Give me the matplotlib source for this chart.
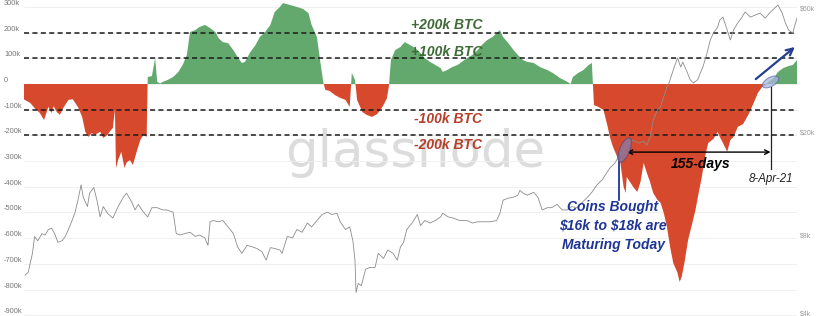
import numpy as np
import pandas as pd
import matplotlib
matplotlib.use("Agg")
import matplotlib.pyplot as plt
import matplotlib.dates as mdates
import matplotlib.transforms as mtransforms
from matplotlib.patches import Ellipse
from matplotlib.ticker import NullLocator

# series start date, everything below is "days since start"
start = pd.Timestamp("2019-05-03")

# net position change (thousands of BTC)
flow_days = [0, 6, 10, 15, 19, 23, 26, 28, 31, 34,
             37, 42, 46, 51, 55, 58, 61, 64, 67, 72,
             75, 79, 81, 84, 86, 87, 89, 92, 95, 97,
             100, 103, 107, 110, 113, 116, 117, 121, 124, 126,
             129, 131, 136, 141, 146, 150, 154, 157, 162, 166,
             171, 176, 181, 184, 188, 193, 198, 202, 206, 209,
             214, 219, 223, 228, 233, 237, 242, 245, 252, 258,
             264, 269, 272, 277, 280, 283, 285, 289, 294, 299,
             304, 308, 310, 313, 315, 320, 324, 329, 334, 339,
             343, 345, 347, 351, 356, 360, 365, 370, 375, 379,
             384, 389, 394, 396, 400, 405, 410, 414, 419, 424,
             429, 433, 438, 443, 447, 450, 453, 458, 463, 467,
             472, 476, 482, 488, 495, 500, 507, 514, 517, 519,
             524, 529, 534, 537, 539, 543, 548, 552, 554, 557,
             561, 564, 567, 569, 570, 573, 576, 580, 583, 586,
             589, 592, 595, 599, 602, 605, 608, 611, 614, 618,
             620, 622, 625, 628, 632, 635, 638, 641, 644, 647,
             652, 656, 658, 661, 665, 668, 671, 675, 680, 685,
             690, 694, 698, 701, 704, 709, 713, 718, 723, 727,
             731]
flow_k = [-60, -74, -94, -113, -140, -89, -113, -86, -109, -120,
          -94, -62, -59, -89, -128, -186, -206, -191, -198, -186,
          -210, -198, -186, -171, -101, -327, -296, -264, -327, -306,
          -296, -315, -257, -218, -198, -206, 27, 31, 101, 8,
          2, 8, 16, 27, 47, 74, 113, 202, 210, 222,
          230, 218, 202, 179, 163, 159, 132, 105, 82, 86,
          124, 152, 183, 202, 230, 280, 300, 315, 307, 300,
          292, 276, 230, 183, 93, 8, -23, -27, -43, -54,
          -62, -89, 43, 16, -62, -109, -120, -128, -117, -89,
          -58, -12, 93, 132, 144, 163, 152, 140, 120, 101,
          86, 74, 62, 47, 54, 66, 74, 86, 101, 113,
          132, 152, 171, 183, 198, 210, 183, 159, 132, 113,
          93, 86, 82, 66, 54, 43, 23, 8, 0, 27,
          43, 54, 74, 82, -82, -89, -101, -167, -206, -245,
          -284, -307, -400, -424, -362, -381, -400, -420, -381, -307,
          -346, -381, -424, -451, -463, -502, -556, -634, -697, -735,
          -770, -750, -685, -607, -541, -490, -424, -362, -284, -230,
          -214, -186, -206, -230, -264, -218, -206, -167, -156, -120,
          -74, -35, -12, -4, 8, 23, 47, 62, 70, 74,
          93]

# BTC price (thousands of USD)
price_days = [1, 4, 8, 10, 13, 17, 20, 23, 26, 29,
              32, 36, 39, 42, 45, 48, 51, 54, 56, 60,
              62, 66, 69, 72, 75, 79, 84, 89, 94, 97,
              102, 105, 108, 113, 117, 121, 126, 131, 135, 141,
              144, 148, 152, 157, 162, 166, 171, 174, 176, 179,
              184, 188, 193, 198, 202, 206, 211, 216, 220, 225,
              229, 233, 237, 242, 244, 249, 254, 258, 263, 268,
              272, 277, 282, 287, 291, 296, 299, 304, 308, 311,
              313, 314, 316, 319, 323, 327, 332, 335, 340, 344,
              349, 353, 356, 359, 362, 367, 372, 375, 379, 384,
              389, 394, 396, 401, 406, 412, 419, 424, 429, 434,
              441, 447, 450, 453, 458, 463, 467, 469, 472, 476,
              482, 486, 490, 495, 499, 504, 509, 514, 518, 523,
              528, 533, 537, 542, 547, 551, 554, 559, 562, 566,
              569, 571, 576, 581, 586, 589, 592, 595, 599, 602,
              605, 608, 610, 614, 618, 621, 623, 627, 630, 633,
              637, 640, 642, 646, 649, 652, 656, 658, 661, 665,
              668, 671, 675, 679, 682, 687, 692, 696, 701, 706,
              710, 713, 717, 720, 723, 727, 729, 731]
price_k = [5.6, 5.75, 6.8, 7.9, 7.6, 8.1, 8.0, 8.4, 8.5, 8.1,
           7.5, 7.6, 7.9, 8.4, 9.0, 9.7, 10.9, 12.5, 11.2, 10.3,
           11.6, 12.2, 10.9, 9.4, 10.3, 9.7, 9.3, 10.3, 11.2, 11.6,
           10.7, 10.0, 10.5, 9.8, 9.4, 10.2, 10.2, 10.0, 10.0, 9.8,
           8.1, 8.0, 8.1, 8.2, 7.9, 8.0, 7.8, 7.3, 9.0, 9.1,
           9.0, 9.1, 8.6, 8.1, 7.2, 6.8, 7.3, 7.2, 7.1, 6.9,
           6.4, 7.15, 7.1, 7.0, 6.8, 7.9, 7.8, 8.4, 8.2, 8.9,
           8.6, 9.1, 9.6, 9.8, 9.6, 9.7, 9.0, 8.4, 8.6, 7.6,
           6.4, 4.8, 5.2, 5.1, 5.9, 6.0, 6.0, 6.8, 6.5, 7.0,
           6.8, 6.4, 7.2, 7.5, 8.4, 8.9, 9.6, 8.7, 9.1, 8.9,
           9.1, 9.4, 9.7, 9.4, 9.3, 9.1, 9.1, 8.9, 9.0, 9.0,
           9.0, 9.1, 9.7, 10.9, 11.1, 11.2, 11.4, 11.9, 11.6, 11.4,
           11.7, 11.2, 10.0, 10.2, 10.2, 10.5, 10.0, 10.0, 10.3, 10.2,
           10.7, 11.2, 11.7, 12.5, 13.1, 13.9, 14.5, 15.2, 16.0, 16.7,
           17.5, 18.1, 18.6, 18.1, 18.4, 17.8, 19.1, 22.2, 24.3, 25.0,
           27.3, 29.8, 30.9, 34.7, 38.6, 35.6, 37.2, 34.1, 31.8, 30.9,
           31.8, 34.1, 35.6, 40.4, 45.3, 48.2, 50.8, 54.1, 55.5, 49.5,
           45.3, 49.5, 52.7, 55.5, 58.1, 55.5, 56.6, 57.5, 55.0, 58.1,
           60.2, 61.8, 57.5, 52.7, 49.5, 48.2, 51.7, 55.0]

left_ticks = [-900, -800, -700, -600, -500, -400, -300, -200, -100, 0, 100, 200, 300]
left_labels = ["-900k", "-800k", "-700k", "-600k", "-500k", "-400k", "-300k",
               "-200k", "-100k", "0", "100k", "200k", "300k"]
right_ticks = [4, 8, 20, 60]
right_labels = [r"\$4k", r"\$8k", r"\$20k", r"\$60k"]
levels = [200, 100, -100, -200]
level_labels = ["+200k BTC", "+100k BTC", "-100k BTC", "-200k BTC"]


def day(n):
    return start + pd.Timedelta(days=n)


flow_dates = start + pd.to_timedelta(flow_days, unit="D")
price_dates = start + pd.to_timedelta(price_days, unit="D")
flow = np.array(flow_k, dtype=float)

GREEN = "#63a86d"
RED = "#d6492c"
BLUE = "#1e3595"
TXT_FONT = ["Liberation Sans", "DejaVu Sans"]

fig = plt.figure(figsize=(8.3, 3.16), dpi=100)
ax = fig.add_axes([24 / 830, 0, 773 / 830, 1])
ax.set_xlim(day(0), day(731))
ax.set_ylim(-903, 327)

# watermark
ax.text(day(370), -323, "glassnode", fontsize=37, color="#dcdcdc",
        ha="center", va="baseline", zorder=0, family="DejaVu Sans")

ax.fill_between(flow_dates, flow, 0, where=flow >= 0, interpolate=True,
                color=GREEN, lw=0, zorder=2)
ax.fill_between(flow_dates, flow, 0, where=flow <= 0, interpolate=True,
                color=RED, lw=0, zorder=2)

for v in levels:
    ax.axhline(v, color="#1a1a1a", lw=1.1, dashes=(3.3, 2.2), zorder=3)

ax.set_yticks(left_ticks)
ax.set_yticklabels(left_labels)
ax.grid(axis="y", color="#eeeeee", lw=0.6, zorder=1)
ax.set_axisbelow(True)
ax.tick_params(axis="y", length=0, pad=14.4, labelsize=5.3, labelcolor="#777777")
for lbl in ax.get_yticklabels():
    lbl.set_ha("left")
    lbl.set_va("bottom")
    lbl.set_family("Liberation Sans")
ax.set_xticks([])
for s in ax.spines.values():
    s.set_visible(False)

ax2 = ax.twinx()
ax2.set_yscale("log")
ax2.set_ylim(3.895, 64.6)
ax2.plot(price_dates, price_k, color="#8c8c8c", lw=0.6, zorder=4)
ax2.set_yticks(right_ticks)
ax2.set_yticklabels(right_labels)
ax2.yaxis.set_minor_locator(NullLocator())
ax2.tick_params(axis="y", length=0, pad=2, labelsize=5, labelcolor="#9a9a9a")
for lbl in ax2.get_yticklabels():
    lbl.set_family("Liberation Sans")
for s in ax2.spines.values():
    s.set_visible(False)

# overlay axes for the annotations (same data limits as the flow axis)
ax3 = fig.add_axes(ax.get_position(), frameon=False)
ax3.set_xlim(ax.get_xlim())
ax3.set_ylim(ax.get_ylim())
ax3.set_xticks([])
ax3.set_yticks([])

# level annotations
text_pos = [(400, 228), (400, 124), (401, -136), (401, -237)]
text_col = ["#3d6b35", "#3d6b35", "#b4402a", "#b4402a"]
for (d, y), t, c in zip(text_pos, level_labels, text_col):
    ax3.text(day(d), y, t, fontsize=10, color=c, ha="center", va="center",
             weight="bold", style="italic", family=TXT_FONT)


def ellipse(axis, x, y, w_px, h_px, angle, face, edge):
    tr = fig.dpi_scale_trans + mtransforms.ScaledTranslation(
        mdates.date2num(x), y, axis.transData)
    e = Ellipse((0, 0), w_px / 100, h_px / 100, angle=angle, transform=tr,
                facecolor=face, edgecolor=edge, lw=0.7, alpha=0.75, zorder=7)
    fig.add_artist(e)


# 155-days span
ax3.annotate("", xy=(day(706), -265), xytext=(day(570), -265),
             arrowprops=dict(arrowstyle="<->", color="black", lw=1.0,
                             shrinkA=0, shrinkB=0, mutation_scale=8))
ax3.text(day(640), -311, "155-days", fontsize=10, weight="bold", style="italic",
         ha="center", va="center", family=TXT_FONT)
ax3.plot([day(706), day(706)], [-12, -331], color="#222222", lw=0.9)
ax3.text(day(706), -370, "8-Apr-21", fontsize=8.3, style="italic",
         ha="center", va="center", color="#222222", family=TXT_FONT)
ellipse(ax3, day(706), 8, 18, 9, 30, "#aab6dc", "#5a6aa8")

# bought coins marker
ax3.plot([day(563), day(563)], [-276, -451], color=BLUE, lw=1.3)
ellipse(ax3, day(568), -257, 26, 10, 68, "#8a7aa6", "#4a4a7a")
ax3.text(day(557), -552, "Coins Bought\n\\$16k to \\$18k are\nMaturing Today",
         fontsize=10, weight="bold", style="italic", color=BLUE,
         ha="center", va="center", linespacing=1.45, family=TXT_FONT)

# upward arrow
ax3.annotate("", xy=(day(729), 144), xytext=(day(692), 19),
             arrowprops=dict(arrowstyle="->", color="#24408f", lw=1.6,
                             shrinkA=0, shrinkB=0, mutation_scale=12))

fig.savefig("out.png", dpi=100)
